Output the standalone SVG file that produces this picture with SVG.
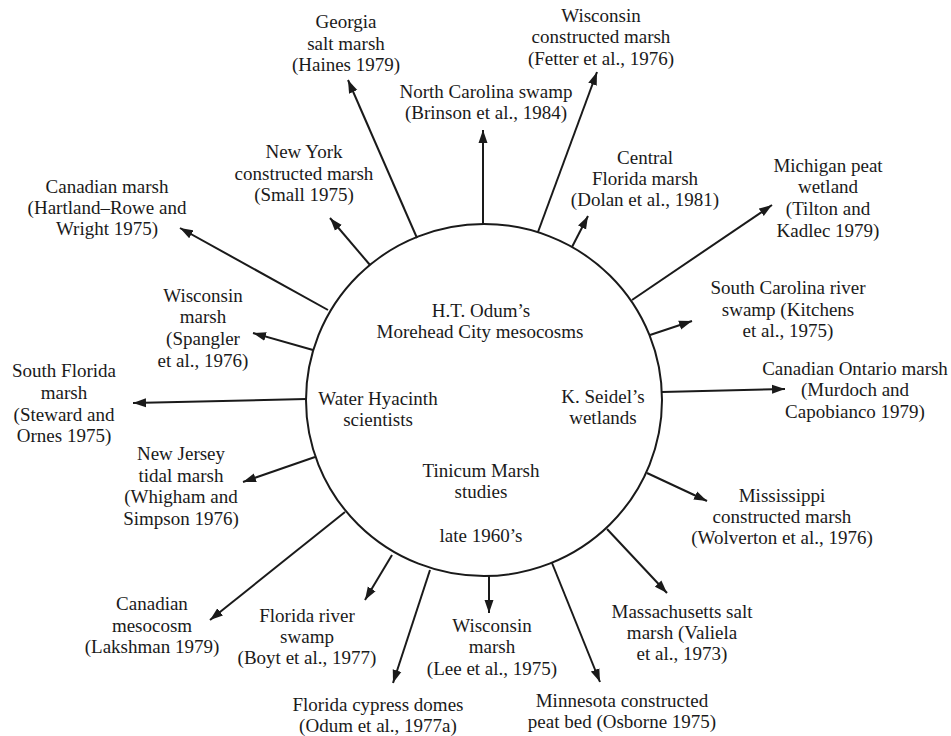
<svg xmlns="http://www.w3.org/2000/svg" width="951" height="736" viewBox="0 0 951 736">
<style>
text{font-family:"Liberation Serif","Times New Roman",serif;font-size:19px;fill:#1a1a1a;text-anchor:middle}
.c{fill:none;stroke:#1a1a1a;stroke-width:2}
.e{stroke:#1a1a1a;stroke-width:2;fill:none;marker-end:url(#ah)}
</style>
<defs>
<marker id="ah" markerUnits="userSpaceOnUse" markerWidth="14" markerHeight="10" refX="13" refY="5" orient="auto">
<path d="M0,0.5 L13,5 L0,9.5 z" fill="#1a1a1a"/>
</marker>
</defs>
<rect width="951" height="736" fill="#fff"/>
<g id="center">
<ellipse class="c" cx="484" cy="400" rx="178" ry="176"/>
<text x="481" y="317">H.T. Odum’s</text>
<text x="480" y="338">Morehead City mesocosms</text>
<text x="378" y="405">Water Hyacinth</text>
<text x="378" y="426">scientists</text>
<text x="603" y="403">K. Seidel’s</text>
<text x="603" y="424">wetlands</text>
<text x="481" y="477">Tinicum Marsh</text>
<text x="481" y="498">studies</text>
<text x="481" y="542">late 1960’s</text>
</g>
<g id="connectors">
<line class="e" x1="417" y1="238" x2="348" y2="80"/>
<line class="e" x1="483" y1="225" x2="483" y2="130"/>
<line class="e" x1="538" y1="232" x2="597" y2="72"/>
<line class="e" x1="370" y1="265" x2="330" y2="218"/>
<line class="e" x1="572" y1="247" x2="588" y2="216"/>
<line class="e" x1="632" y1="300" x2="772" y2="205"/>
<line class="e" x1="328" y1="310" x2="180" y2="228"/>
<line class="e" x1="313" y1="350" x2="253" y2="333"/>
<line class="e" x1="650" y1="335" x2="692" y2="321"/>
<line class="e" x1="306" y1="399" x2="133" y2="403"/>
<line class="e" x1="662" y1="392" x2="785" y2="389"/>
<line class="e" x1="315" y1="457" x2="243" y2="482"/>
<line class="e" x1="647" y1="473" x2="707" y2="501"/>
<line class="e" x1="345" y1="512" x2="210" y2="620"/>
<line class="e" x1="392" y1="555" x2="365" y2="600"/>
<line class="e" x1="430" y1="570" x2="393" y2="683"/>
<line class="e" x1="489" y1="576" x2="489" y2="613"/>
<line class="e" x1="552" y1="563" x2="600" y2="682"/>
<line class="e" x1="607" y1="529" x2="667" y2="593"/>
</g>
<g id="georgia"><text x="346" y="28">Georgia</text><text x="346" y="50">salt marsh</text><text x="346" y="71">(Haines 1979)</text></g>
<g id="north-carolina"><text x="486" y="98">North Carolina swamp</text><text x="486" y="119">(Brinson et al., 1984)</text></g>
<g id="wisconsin-constructed"><text x="601" y="22">Wisconsin</text><text x="601" y="43">constructed marsh</text><text x="601" y="65">(Fetter et al., 1976)</text></g>
<g id="new-york"><text x="304" y="158">New York</text><text x="304" y="180">constructed marsh</text><text x="304" y="201">(Small 1975)</text></g>
<g id="central-florida"><text x="645" y="164">Central</text><text x="645" y="185">Florida marsh</text><text x="645" y="206">(Dolan et al., 1981)</text></g>
<g id="michigan"><text x="828" y="172">Michigan peat</text><text x="828" y="193">wetland</text><text x="828" y="215">(Tilton and</text><text x="828" y="237">Kadlec 1979)</text></g>
<g id="canadian-marsh"><text x="107" y="193">Canadian marsh</text><text x="107" y="214">(Hartland–Rowe and</text><text x="107" y="235">Wright 1975)</text></g>
<g id="wisconsin-spangler"><text x="203" y="302">Wisconsin</text><text x="203" y="323">marsh</text><text x="203" y="345">(Spangler</text><text x="203" y="367">et al., 1976)</text></g>
<g id="south-carolina"><text x="788" y="294">South Carolina river</text><text x="788" y="316">swamp (Kitchens</text><text x="788" y="337">et al., 1975)</text></g>
<g id="south-florida"><text x="64" y="377">South Florida</text><text x="64" y="399">marsh</text><text x="64" y="421">(Steward and</text><text x="64" y="442">Ornes 1975)</text></g>
<g id="canadian-ontario"><text x="855" y="375">Canadian Ontario marsh</text><text x="855" y="396">(Murdoch and</text><text x="855" y="418">Capobianco 1979)</text></g>
<g id="new-jersey"><text x="181" y="460">New Jersey</text><text x="181" y="482">tidal marsh</text><text x="181" y="503">(Whigham and</text><text x="181" y="525">Simpson 1976)</text></g>
<g id="mississippi"><text x="782" y="502">Mississippi</text><text x="782" y="523">constructed marsh</text><text x="782" y="544">(Wolverton et al., 1976)</text></g>
<g id="canadian-mesocosm"><text x="152" y="610">Canadian</text><text x="152" y="632">mesocosm</text><text x="152" y="653">(Lakshman 1979)</text></g>
<g id="florida-river"><text x="307" y="622">Florida river</text><text x="307" y="643">swamp</text><text x="307" y="664">(Boyt et al., 1977)</text></g>
<g id="florida-cypress"><text x="378" y="711">Florida cypress domes</text><text x="378" y="732">(Odum et al., 1977a)</text></g>
<g id="wisconsin-lee"><text x="492" y="632">Wisconsin</text><text x="492" y="653">marsh</text><text x="492" y="675">(Lee et al., 1975)</text></g>
<g id="minnesota"><text x="622" y="707">Minnesota constructed</text><text x="622" y="728">peat bed (Osborne 1975)</text></g>
<g id="massachusetts"><text x="682" y="618">Massachusetts salt</text><text x="682" y="639">marsh (Valiela</text><text x="682" y="660">et al., 1973)</text></g>
</svg>
